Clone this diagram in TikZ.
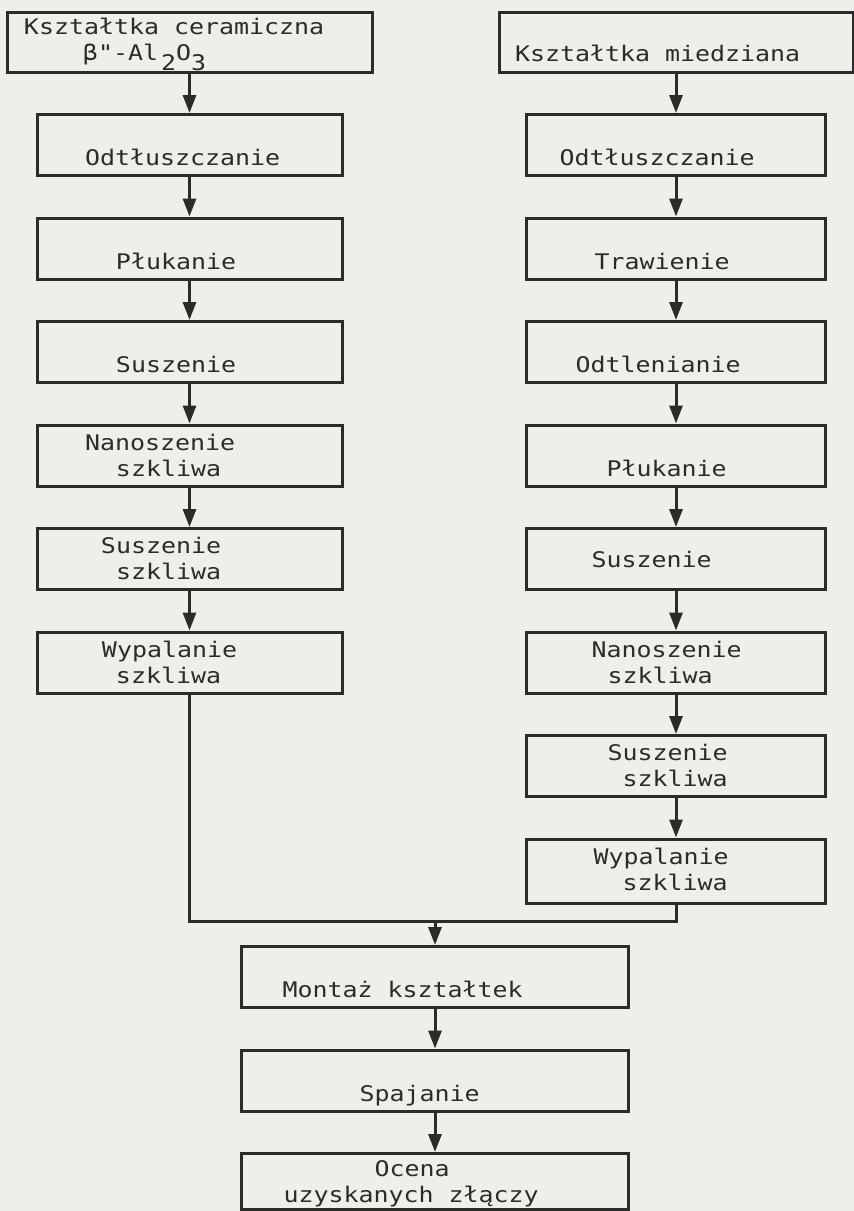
\documentclass[tikz,border=0pt]{standalone}
\usepackage{fontspec}
\usepackage{tikz}
\usetikzlibrary{arrows.meta,positioning}
\newfontfamily\plotfont[FakeStretch=1.16]{DejaVu Sans Mono}
\definecolor{paper}{RGB}{239,239,233}
\definecolor{ink}{RGB}{45,43,41}
\newcommand{\shiftin}[1]{\hspace*{#1pt}}
\newcommand{\wgap}{\hspace{15pt}}

\tikzset{
  stepbox/.style={draw=ink, line width=3pt, inner sep=0pt, align=left, text=ink,
    font=\plotfont\fontsize{21.5}{26}\selectfont, text height=25pt, text depth=36pt},
  lowbox/.style={stepbox, text height=51pt, text depth=10pt},
  leftcol/.style={text width=305pt},
  rightcol/.style={text width=299pt},
  flow/.style={draw=ink, line width=3pt, -{Triangle[length=18pt,width=13pt]}}
}

\begin{document}
\begin{tikzpicture}[x=1pt, y=-1pt, node distance=39.5pt]
    \path[use as bounding box, fill=paper] (0,0) rectangle (854,1211);

    % ceramika
    \node [stepbox, text width=365pt, text height=22pt, text depth=38pt] (cer) at (189.5,42)
        {\shiftin{17}Kształtka\wgap ceramiczna\\\shiftin{76}β"-Al\hspace{3pt}\raisebox{-10pt}{2}O\raisebox{-10pt}{3}};
    \node [lowbox, leftcol, below=of cer] (cerdeg) {\shiftin{48}Odtłuszczanie};
    \node [lowbox, leftcol, below=of cerdeg] (cerrinse) {\shiftin{79}Płukanie};
    \node [lowbox, leftcol, below=of cerrinse] (cerdry) {\shiftin{79}Suszenie};
    \node [stepbox, leftcol, below=of cerdry] (cerglaze) {\shiftin{48}Nanoszenie\\\shiftin{79}szkliwa};
    \node [stepbox, leftcol, below=of cerglaze] (cerglazedry) {\shiftin{64}Suszenie\\\shiftin{79}szkliwa};
    \node [stepbox, leftcol, below=of cerglazedry] (cerfire) {\shiftin{65}Wypalanie\\\shiftin{79}szkliwa};

    % miedz
    \node [stepbox, text width=354pt, text height=49pt, text depth=11pt] (cu) at (676,42)
        {\shiftin{16}Kształtka\wgap miedziana};
    \node [lowbox, rightcol, below=of cu] (cudeg) {\shiftin{33}Odtłuszczanie};
    \node [lowbox, rightcol, below=of cudeg] (cuetch) {\shiftin{68}Trawienie};
    \node [lowbox, rightcol, below=of cuetch] (cudeox) {\shiftin{49}Odtlenianie};
    \node [lowbox, rightcol, below=of cudeox] (curinse) {\shiftin{80}Płukanie};
    \node [stepbox, rightcol, text height=39pt, text depth=22pt, below=of curinse] (cudry) {\shiftin{65}Suszenie};
    \node [stepbox, rightcol, below=of cudry] (cuglaze) {\shiftin{65}Nanoszenie\\\shiftin{81}szkliwa};
    \node [stepbox, rightcol, below=of cuglaze] (cuglazedry) {\shiftin{81}Suszenie\\\shiftin{96}szkliwa};
    \node [stepbox, rightcol, text depth=39pt, below=of cuglazedry] (cufire) {\shiftin{67}Wypalanie\\\shiftin{96}szkliwa};

    % laczenie
    \coordinate (join) at (435,921);
    \node [lowbox, text width=387pt] (mount) at (435,977) {\shiftin{41}Montaż\wgap kształtek};
    \node [lowbox, text width=387pt, below=of mount] (bond) {\shiftin{118}Spajanie};
    \node [stepbox, text width=387pt, text height=23pt, text depth=33pt, below=of bond] (eval)
        {\shiftin{133}Ocena\\\shiftin{42}uzyskanych\wgap złączy};

    \draw[flow] (cer) -- (cerdeg);
    \draw[flow] (cerdeg) -- (cerrinse);
    \draw[flow] (cerrinse) -- (cerdry);
    \draw[flow] (cerdry) -- (cerglaze);
    \draw[flow] (cerglaze) -- (cerglazedry);
    \draw[flow] (cerglazedry) -- (cerfire);

    \draw[flow] (cu) -- (cudeg);
    \draw[flow] (cudeg) -- (cuetch);
    \draw[flow] (cuetch) -- (cudeox);
    \draw[flow] (cudeox) -- (curinse);
    \draw[flow] (curinse) -- (cudry);
    \draw[flow] (cudry) -- (cuglaze);
    \draw[flow] (cuglaze) -- (cuglazedry);
    \draw[flow] (cuglazedry) -- (cufire);

    \draw[draw=ink, line width=3pt] (cerfire.south) |- (join) -| (cufire.south);
    \draw[flow] (join) -- (mount);
    \draw[flow] (mount) -- (bond);
    \draw[flow] (bond) -- (eval);
\end{tikzpicture}
\end{document}
